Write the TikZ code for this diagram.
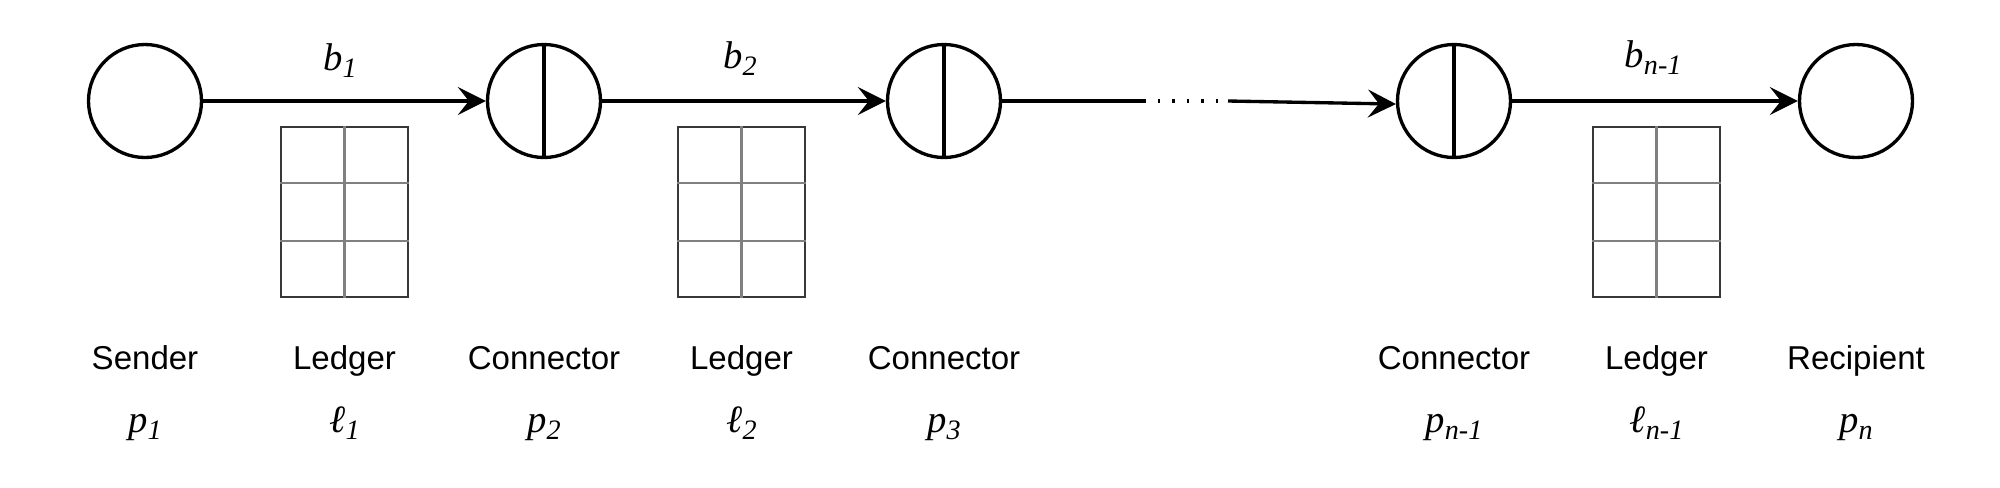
\documentclass[tikz,border=0pt]{standalone}
\usepackage{fontspec}
\setmainfont{Liberation Sans}
\newfontfamily\timesit{Liberation Serif}
\usetikzlibrary{calc, arrows.meta}

\newcommand{\sym}[2]{{\timesit\itshape\fontsize{11}{11}\selectfont #1\raisebox{-2pt}{\fontsize{8}{8}\selectfont #2}}}

\begin{document}
\begin{tikzpicture}[>={Stealth[length=2.8mm, width=2.8mm, inset=1.1mm]},
  party/.style={circle, draw, line width=0.95pt, minimum size=1.13cm, inner sep=0pt},
  ledger/.style={rectangle, draw=black!78, line width=0.8pt, minimum width=1.27cm, minimum height=1.70cm, inner sep=0pt},
  cell/.style={draw=black!50, line width=0.7pt},
  link/.style={->, line width=0.95pt},
  gap/.style={line width=0.95pt, dash pattern=on 0.7pt off 3.4pt, dash phase=0.4pt},
  role/.style={anchor=base, inner sep=0pt, font=\fontsize{9.4}{10}\selectfont},
  sign/.style={anchor=base, inner sep=0pt}]

\useasboundingbox (0,0) rectangle (20,-4.87);

% sender, connectors, recipient
\node[party] (p1) at (1.45,-1.01) {};
\node[party] (p2) at (5.44,-1.01) {};
\node[party] (p3) at (9.44,-1.01) {};
\node[party] (pn1) at (14.54,-1.01) {};
\node[party] (pn) at (18.56,-1.01) {};
\foreach \c in {p2,p3,pn1}
  \draw[line width=0.95pt] (\c.north) -- (\c.south);

% ledgers
\node[ledger] (l1) at (3.445,-2.12) {};
\node[ledger] (l2) at (7.415,-2.12) {};
\node[ledger] (ln1) at (16.565,-2.12) {};
\foreach \l in {l1,l2,ln1}{
  \draw[cell] (\l.north) -- (\l.south);
  \draw[cell] ($(\l.north west)!1/3!(\l.south west)$) -- ($(\l.north east)!1/3!(\l.south east)$);
  \draw[cell] ($(\l.north west)!2/3!(\l.south west)$) -- ($(\l.north east)!2/3!(\l.south east)$);
}

% payments
\draw[link] (p1) -- (p2);
\draw[link] (p2) -- (p3);
\coordinate (gapstart) at (11.45,-1.01);
\coordinate (gapend) at (12.28,-1.01);
\draw[line width=0.95pt] (p3) -- (gapstart);
\draw[gap] (gapstart) -- (gapend);
\draw[link] (gapend) -- (pn1.183);
\draw[link] (pn1) -- (pn);

\node[sign] (b1) at (3.40,-0.70) {\sym{b}{1}};
\node[sign] (b2) at (7.40,-0.68) {\sym{b}{2}};
\node[sign] (bn1) at (16.53,-0.67) {\sym{b}{n-1}};

% labels below
\coordinate (rolerow) at (0,-3.69);
\coordinate (namerow) at (0,-4.32);
\node[role] (rp1) at (p1 |- rolerow) {Sender};
\node[role] (rl1) at (l1 |- rolerow) {Ledger};
\node[role] (rp2) at (p2 |- rolerow) {Connector};
\node[role] (rl2) at (l2 |- rolerow) {Ledger};
\node[role] (rp3) at (p3 |- rolerow) {Connector};
\node[role] (rpn1) at (pn1 |- rolerow) {Connector};
\node[role] (rln1) at (ln1 |- rolerow) {Ledger};
\node[role] (rpn) at (pn |- rolerow) {Recipient};

\node[sign] (np1) at (p1 |- namerow) {\sym{p}{1}};
\node[sign] (nl1) at (l1 |- namerow) {\sym{ℓ}{1}};
\node[sign] (np2) at (p2 |- namerow) {\sym{p}{2}};
\node[sign] (nl2) at (l2 |- namerow) {\sym{ℓ}{2}};
\node[sign] (np3) at (p3 |- namerow) {\sym{p}{3}};
\node[sign] (npn1) at (pn1 |- namerow) {\sym{p}{n-1}};
\node[sign] (nln1) at (ln1 |- namerow) {\sym{ℓ}{n-1}};
\node[sign] (npn) at (pn |- namerow) {\sym{p}{n}};

\end{tikzpicture}
\end{document}
